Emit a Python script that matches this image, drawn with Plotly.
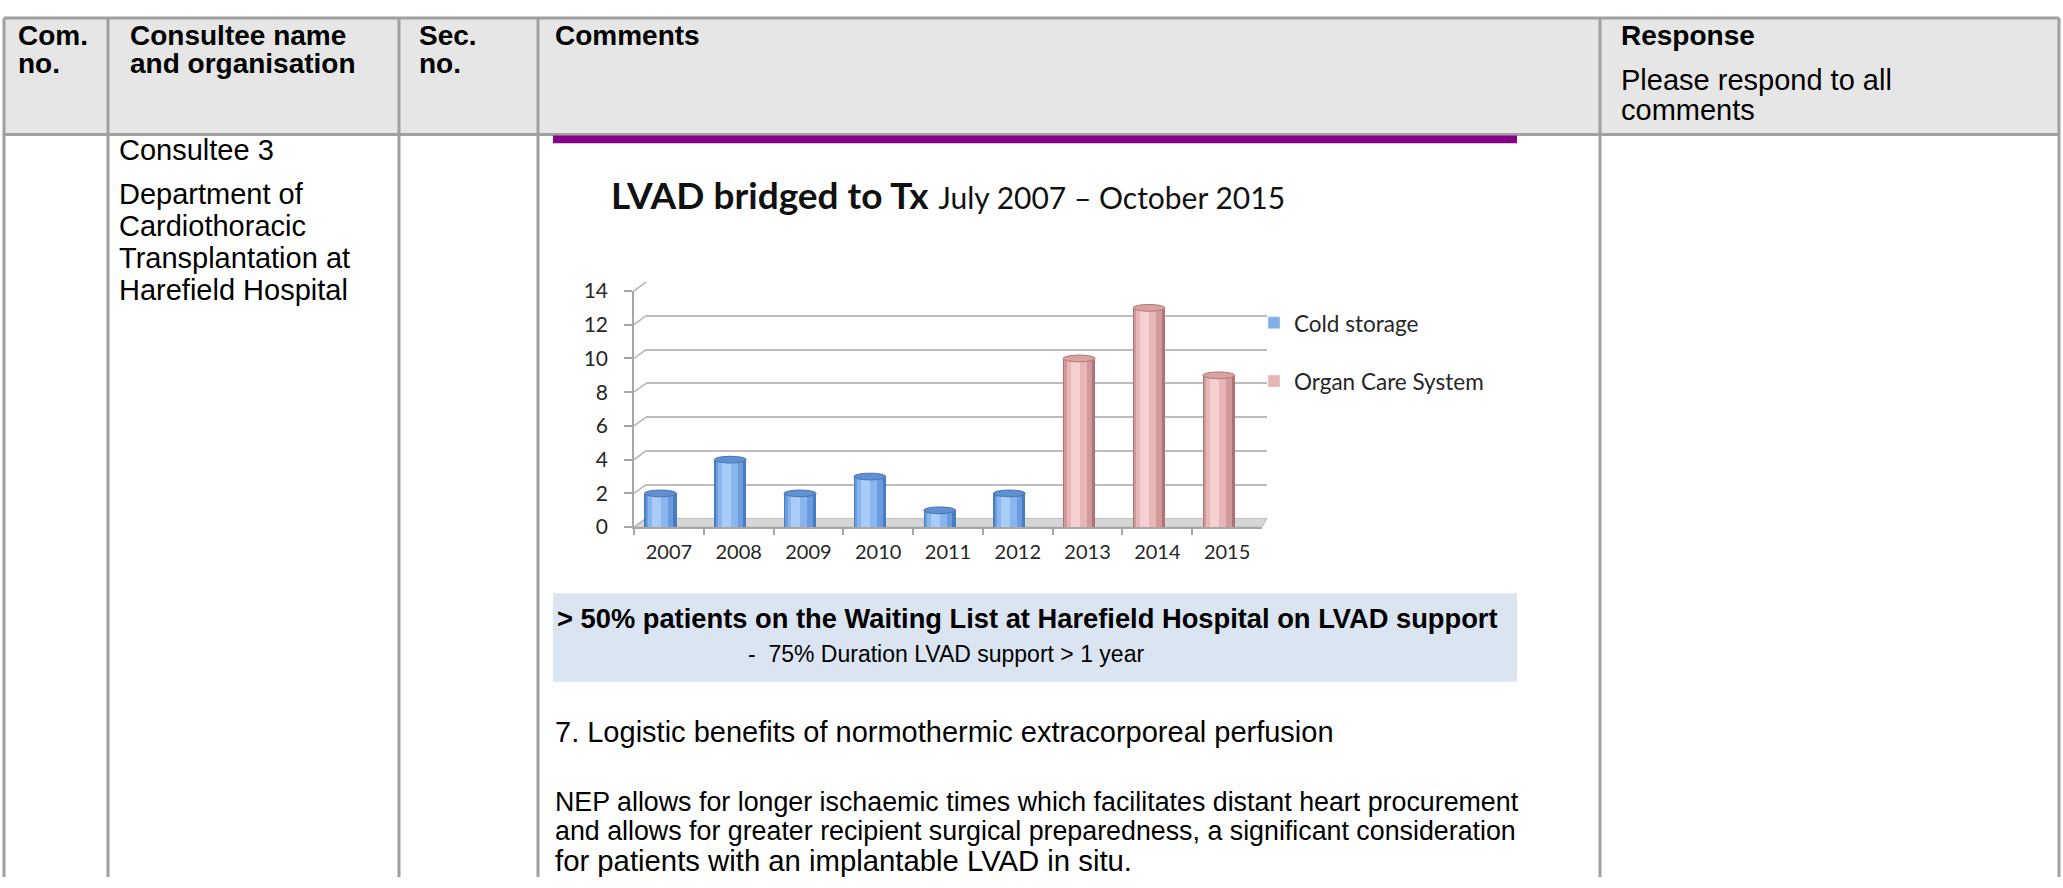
import plotly.graph_objects as go

W, H = 2063, 888

# ---------------- data ----------------
years = ["2007", "2008", "2009", "2010", "2011", "2012", "2013", "2014", "2015"]
cold_storage = [2, 4, 2, 3, 1, 2, 0, 0, 0]
organ_care = [0, 0, 0, 0, 0, 0, 10, 13, 9]
y_ticks = [0, 2, 4, 6, 8, 10, 12, 14]

header_cols = [("Com.", "no."), ("Consultee name", "and organisation"), ("Sec.", "no."), ("Comments", "")]
consultee_lines = ["Consultee 3", "Department of", "Cardiothoracic", "Transplantation at", "Harefield Hospital"]
box_line1 = "> 50% patients on the Waiting List at Harefield Hospital on LVAD support"
box_line2 = "-  75% Duration LVAD support > 1 year"
body_heading = "7. Logistic benefits of normothermic extracorporeal perfusion"
body_lines = [
    "NEP allows for longer ischaemic times which facilitates distant heart procurement",
    "and allows for greater recipient surgical preparedness, a significant consideration",
    "for patients with an implantable LVAD in situ.",
]

# ---------------- helpers ----------------
def px(x):
    return x / W

def py(y):
    return 1 - y / H

ARIAL = "Arial, Liberation Sans, sans-serif"
CAL = "Lato, Carlito, sans-serif"
GRID = "#a0a0a0"

# front chart frame (pixels)
FX0, FX1 = 634, 1262
FY0, FY1 = 528, 285
DX, DY = 12, -9          # 3D depth offset
BACK_X1 = 1267           # right end of back wall

shapes = []
annotations = []

# header background
shapes.append(dict(type="rect", xref="paper", yref="paper", x0=px(4), x1=px(2059), y0=py(4), y1=py(124),
                   fillcolor="#e6e6e6", line=dict(width=0), layer="below"))
# table lines
for cx in [4, 108, 399, 538, 1600, 2059]:
    shapes.append(dict(type="line", xref="paper", yref="paper", x0=px(cx), x1=px(cx), y0=py(4), y1=py(888),
                       line=dict(color=GRID, width=3)))
for cy in [4, 124]:
    shapes.append(dict(type="line", xref="paper", yref="paper", x0=px(4), x1=px(2059), y0=py(cy), y1=py(cy),
                       line=dict(color=GRID, width=3)))
# purple bar
shapes.append(dict(type="rect", xref="paper", yref="paper", x0=px(553), x1=px(1517), y0=py(125), y1=py(133),
                   fillcolor="#850085", line=dict(width=0)))
# light blue text box
shapes.append(dict(type="rect", xref="paper", yref="paper", x0=px(553), x1=px(1517), y0=py(596), y1=py(687),
                   fillcolor="#dbe5f1", line=dict(width=0), layer="below"))

# 3D floor
floor_path = "M {a},{b} L {c},{b} L {d},{e} L {f},{e} Z".format(
    a=px(FX0), b=py(FY0), c=px(FX1), d=px(BACK_X1), e=py(FY0 + DY), f=px(FX0 + DX))
shapes.append(dict(type="path", xref="paper", yref="paper", path=floor_path,
                   fillcolor="#d6d6d6", line=dict(color="#bdbdbd", width=1), layer="below"))
# side-wall connectors for each tick
unit = (FY0 - FY1) / (y_ticks[-1] - y_ticks[0])
for v in y_ticks:
    yy = FY0 - v * unit
    shapes.append(dict(type="line", xref="paper", yref="paper", x0=px(FX0), x1=px(FX0 + DX),
                       y0=py(yy), y1=py(yy + DY), line=dict(color="#b5b5b5", width=1.5), layer="below"))

# cylinder caps
BAR_W = 0.46
BAR_SHIFT = -0.12
CAP_H = 0.2
for series, fill, edge in [(cold_storage, "#5f90d2", "#4874b4"), (organ_care, "#d9a2a2", "#b47878")]:
    for i, v in enumerate(series):
        if v > 0:
            shapes.append(dict(type="circle", xref="x2", yref="y2",
                               x0=i + BAR_SHIFT - BAR_W / 2, x1=i + BAR_SHIFT + BAR_W / 2,
                               y0=v - CAP_H, y1=v + CAP_H,
                               fillcolor=fill, line=dict(color=edge, width=1)))

fig = go.Figure()

# invisible trace so the back-wall grid subplot is created
fig.add_trace(go.Scatter(x=[None], y=[None], xaxis="x", yaxis="y", showlegend=False, hoverinfo="skip"))

layers = {
    "blue": [(1.0, 0.0, "#4a7cc0"), (0.86, -0.03, "#6b9ce0"), (0.62, -0.08, "#8ab6ee"), (0.28, -0.13, "#a9cdf6")],
    "pink": [(1.0, 0.0, "#b07272"), (0.86, -0.03, "#d09a9a"), (0.62, -0.08, "#e8b6b6"), (0.28, -0.13, "#f5d0d0")],
}
for series, key in [(cold_storage, "blue"), (organ_care, "pink")]:
    for fw, fs, col in layers[key]:
        w = fw * BAR_W
        s = fs * BAR_W
        fig.add_trace(go.Bar(x=years, y=series, width=w, offset=BAR_SHIFT + s - w / 2,
                             marker=dict(color=col, line=dict(width=0)),
                             xaxis="x2", yaxis="y2", showlegend=False, hoverinfo="skip"))

# legend entries
fig.add_trace(go.Bar(x=[years[0]], y=[None], name="Cold storage", marker_color="#7fb0e6",
                     xaxis="x2", yaxis="y2", legendgroup="a", showlegend=True))
fig.add_trace(go.Bar(x=[years[0]], y=[None], name="Organ Care System", marker_color="#e8b4b4",
                     xaxis="x2", yaxis="y2", legendgroup="b", showlegend=True))

# ---------------- text ----------------
def txt(x, y, s, size=29, bold=False, font=ARIAL, color="#000000", anchor="left"):
    annotations.append(dict(x=px(x), y=py(y), xref="paper", yref="paper", xanchor=anchor, yanchor="middle",
                            text=("<b>%s</b>" % s) if bold else s, showarrow=False,
                            font=dict(family=font, size=size, color=color)))

header_x = [16, 128, 417, 553]
for (l1, l2), hx in zip(header_cols, header_x):
    txt(hx, 22, l1, 28, True)
    if l2:
        txt(hx, 51, l2, 28, True)
txt(1619, 22, "Response", 28, True)
txt(1619, 68, "Please respond to all", 29)
txt(1619, 99, "comments", 29)

for s, yy in zip(consultee_lines, [140, 185, 218, 251, 284]):
    txt(117, yy, s, 29)

annotations.append(dict(x=px(609), y=py(186), xref="paper", yref="paper", xanchor="left", yanchor="middle",
                        showarrow=False, font=dict(family=CAL, size=37, color="#111111"),
                        text="<b>LVAD bridged to Tx</b> <span style='font-size:30px'>July 2007 – October 2015</span>"))

txt(555, 622, box_line1, 27.3, True)
txt(746, 659, box_line2, 23)
txt(553, 739, body_heading, 29)
for s, yy, fs in zip(body_lines, [811, 841, 871], [26.8, 26.8, 29.3]):
    txt(553, yy, s, fs)

fig.update_layout(
    width=W, height=H, margin=dict(l=0, r=0, t=0, b=0),
    paper_bgcolor="white", plot_bgcolor="rgba(0,0,0,0)",
    barmode="overlay", bargap=0, hovermode=False,
    shapes=shapes, annotations=annotations,
    showlegend=True,
    legend=dict(x=px(1254), y=py(296), xanchor="left", yanchor="top", traceorder="grouped",
                tracegroupgap=26, font=dict(family=CAL, size=22.5, color="#262626"),
                bgcolor="rgba(0,0,0,0)", itemwidth=30),
    # back wall grid
    xaxis=dict(domain=[px(FX0 + DX), px(BACK_X1)], range=[0, 1], visible=False, anchor="y"),
    yaxis=dict(domain=[py(FY0 + DY), py(FY1 + DY)], range=[0, 14], tickvals=y_ticks, showgrid=True,
               gridcolor="#bdbdbd", gridwidth=1.5, showticklabels=False, ticks="", zeroline=False,
               showline=False, anchor="x"),
    # front chart
    xaxis2=dict(domain=[px(FX0), px(FX1)], type="category", categoryorder="array", categoryarray=years,
                range=[-0.5, 8.5], showgrid=False, showline=True, linecolor="#a6a6a6", linewidth=1.5,
                ticks="outside", tickson="boundaries", ticklen=6, tickcolor="#a6a6a6", tickwidth=1.5,
                tickfont=dict(family=CAL, size=20, color="#262626"), ticklabelstandoff=6, anchor="y2"),
    yaxis2=dict(domain=[py(FY0), py(FY1)], range=[0, 14], tickvals=y_ticks, showgrid=False, zeroline=False,
                showline=True, linecolor="#a6a6a6", linewidth=1.5, ticks="outside", ticklen=8,
                tickcolor="#a6a6a6", tickwidth=1.5, tickfont=dict(family=CAL, size=21, color="#262626"),
                ticklabelstandoff=12, anchor="x2"),
)

fig.write_html("out.html", config={"displayModeBar": False},
               post_script="document.body.style.margin='0';document.body.style.overflow='hidden';")
